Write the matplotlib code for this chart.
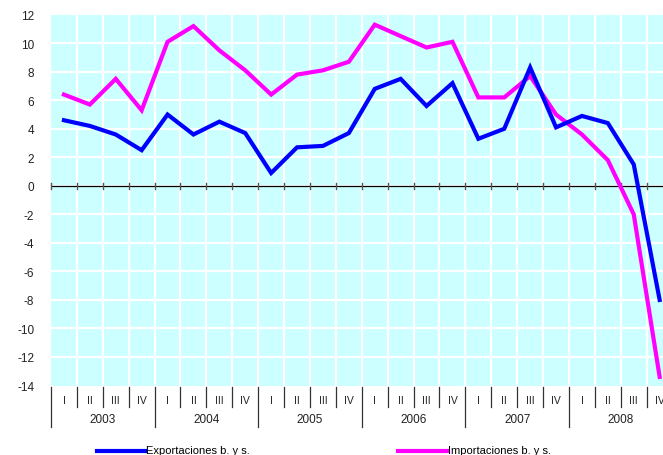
import matplotlib.pyplot as plt
from matplotlib.lines import Line2D
from matplotlib.transforms import blended_transform_factory


quarters = ['I', 'II', 'III', 'IV'] * 6
years = ['2003', '2004', '2005', '2006', '2007', '2008']
exports = [4.6, 4.2, 3.6, 2.5, 5.0, 3.6, 4.5, 3.7, 0.9, 2.7, 2.8, 3.7,
           6.8, 7.5, 5.6, 7.2, 3.3, 4.0, 8.3, 4.1, 4.9, 4.4, 1.5, -8.0]
imports = [6.4, 5.7, 7.5, 5.3, 10.1, 11.2, 9.5, 8.1, 6.4, 7.8, 8.1, 8.7,
           11.3, 10.5, 9.7, 10.1, 6.2, 6.2, 7.7, 5.0, 3.6, 1.8, -2.0, -13.4]
y_ticks = list(range(-14, 13, 2))

W, H = 663, 456
BG = '#CCFFFF'
BLUE = '#0000FF'
MAGENTA = '#FF00FF'

plt.rcParams['font.family'] = ['Liberation Sans', 'DejaVu Sans']


def fy(py):
    # pixel row (from top) -> figure fraction
    return (H - py) / H


fig = plt.figure(figsize=(W / 100, H / 100), dpi=100)
left, right = 51, 672.6
top, bottom = 15.7, 386.5
ax = fig.add_axes([left / W, fy(bottom), (right - left) / W, (bottom - top) / H])
ax.set_facecolor(BG)
for s in ax.spines.values():
    s.set_visible(False)

n = len(quarters)
x = list(range(n))
ax.set_xlim(-0.5, n - 0.5)
ax.set_ylim(-14, 12)

# white grid
for k in range(1, n + 1):
    ax.axvline(k - 0.5, color='white', lw=1.6, zorder=1)
for v in y_ticks[1:-1]:
    ax.axhline(v, color='white', lw=1.6, zorder=1)

# zero line with ticks
ax.axhline(0, color='black', lw=0.9, zorder=2)
zt = blended_transform_factory(ax.transData, fig.transFigure)
for k in range(n + 1):
    ax.plot([k - 0.5, k - 0.5], [fy(183.5), fy(189.5)], color='#555555', lw=1.0,
            transform=zt, clip_on=False, zorder=2)

ax.plot(x, exports, color=BLUE, lw=3.0, zorder=4, solid_joinstyle='miter')
ax.plot(x, imports, color=MAGENTA, lw=3.0, zorder=3, solid_joinstyle='miter')

ax.set_xticks([])
ax.set_yticks(y_ticks)
ax.set_yticklabels([str(v) for v in y_ticks], fontsize=8.5, color='#222222')
ax.tick_params(axis='y', length=0, pad=12)

# category table under the plot
for k in range(n + 1):
    y_end = 428 if k % 4 == 0 else 408
    ax.plot([k - 0.5, k - 0.5], [fy(388), fy(y_end)], color='#333333', lw=0.9,
            transform=zt, clip_on=False)
for i, q in enumerate(quarters):
    ax.text(i, fy(401), q, transform=zt, ha='center', va='center',
            fontsize=7.5, color='#222222', clip_on=False)
for j, yr in enumerate(years):
    ax.text(j * 4 + 1.5, fy(420), yr, transform=zt, ha='center', va='center',
            fontsize=8.5, color='#222222', clip_on=False)

# legend at the very bottom
fig.add_artist(Line2D([97 / W, 145 / W], [fy(452), fy(452)], color=BLUE, lw=3.0))
fig.text(146 / W, fy(446), 'Exportaciones b. y s.', ha='left', va='top', fontsize=8)
fig.add_artist(Line2D([398 / W, 447 / W], [fy(452), fy(452)], color=MAGENTA, lw=3.0))
fig.text(448 / W, fy(446), 'Importaciones b. y s.', ha='left', va='top', fontsize=8)

fig.savefig('out.png', dpi=100)
plt.close(fig)
